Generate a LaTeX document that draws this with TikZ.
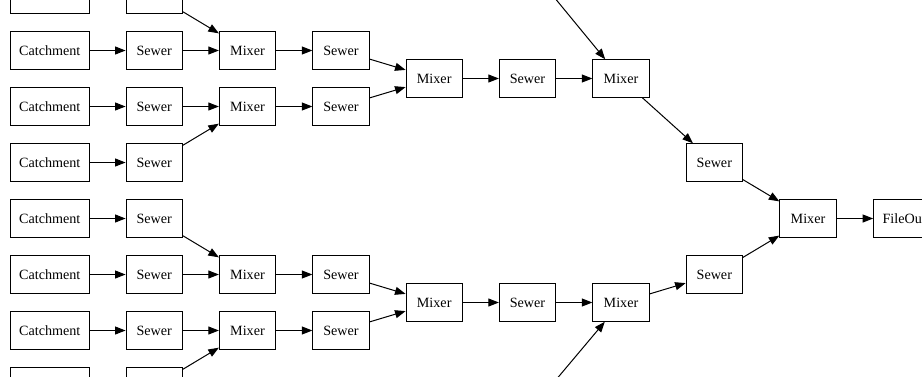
\documentclass[tikz,border=0pt]{standalone}
\usepackage{fontspec}
\setmainfont{Liberation Serif}
\usetikzlibrary{arrows.meta}
\begin{document}
\begin{tikzpicture}[x=0.75pt,y=-0.75pt,
  box/.style={draw=black, line width=0.75pt, minimum height=28.1pt, inner sep=0pt,
    font=\fontsize{10.6}{12}\selectfont},
  catchbox/.style={box, minimum width=59.3pt},
  unitbox/.style={box, minimum width=42.2pt},
  outbox/.style={box, minimum width=45.8pt},
  flow/.style={draw=black, line width=0.75pt, -{Triangle[length=7.9pt,width=6pt]}}]
\useasboundingbox (0,0) rectangle (922,376);
\clip (0,0) rectangle (922,376);

% catchment -> sewer, six full rows
\foreach \k in {1,...,6} {
  \node[catchbox] (c\k) at (49.8, {-5.5+56*\k}) {Catchment};
  \node[unitbox]  (s\k) at (154.2, {-5.5+56*\k}) {Sewer};
  \draw[flow] (c\k) -- (s\k);
}
% rows running past the top and bottom edges
\foreach \k in {0,7} {
  \node[catchbox] (c\k) at (49.8, {-5.5+56*\k}) {};
  \node[unitbox]  (s\k) at (154.2, {-5.5+56*\k}) {};
  \draw[flow] (c\k) -- (s\k);
}

% first mixing stage
\foreach \k in {1,2,5,6} {
  \node[unitbox] (m\k) at (247.5, {-5.5+56*\k}) {Mixer};
  \node[unitbox] (t\k) at (341, {-5.5+56*\k}) {Sewer};
  \draw[flow] (m\k) -- (t\k);
}
\draw[flow] (s0) -- (m1);
\draw[flow] (s1) -- (m1);
\draw[flow] (s2) -- (m2);
\draw[flow] (s3) -- (m2);
\draw[flow] (s4) -- (m5);
\draw[flow] (s5) -- (m5);
\draw[flow] (s6) -- (m6);
\draw[flow] (s7) -- (m6);

% second mixing stage
\node[unitbox] (mu) at (434.2, 78.5) {Mixer};
\node[unitbox] (ml) at (434.2, 302.5) {Mixer};
\node[unitbox] (su) at (527.5, 78.5) {Sewer};
\node[unitbox] (sl) at (527.5, 302.5) {Sewer};
\node[unitbox] (nu) at (621, 78.5) {Mixer};
\node[unitbox] (nl) at (621, 302.5) {Mixer};
\draw[flow] (t1) -- (mu);
\draw[flow] (t2) -- (mu);
\draw[flow] (t5) -- (ml);
\draw[flow] (t6) -- (ml);
\draw[flow] (mu) -- (su);
\draw[flow] (su) -- (nu);
\draw[flow] (ml) -- (sl);
\draw[flow] (sl) -- (nl);

% branches joining from further up and down
\coordinate (inU) at (540,-20);
\coordinate (inL) at (539,400);
\draw[flow] (inU) -- (nu);
\draw[flow] (inL) -- (nl);

% final stage and output
\node[unitbox] (ru) at (714.3, 162.5) {Sewer};
\node[unitbox] (rl) at (714.3, 274.5) {Sewer};
\node[unitbox] (fin) at (808, 218.5) {Mixer};
\node[outbox] (out) at (904.2, 218.5) {FileOut};
\draw[flow] (nu) -- (ru);
\draw[flow] (nl) -- (rl);
\draw[flow] (ru) -- (fin);
\draw[flow] (rl) -- (fin);
\draw[flow] (fin) -- (out);
\end{tikzpicture}
\end{document}
